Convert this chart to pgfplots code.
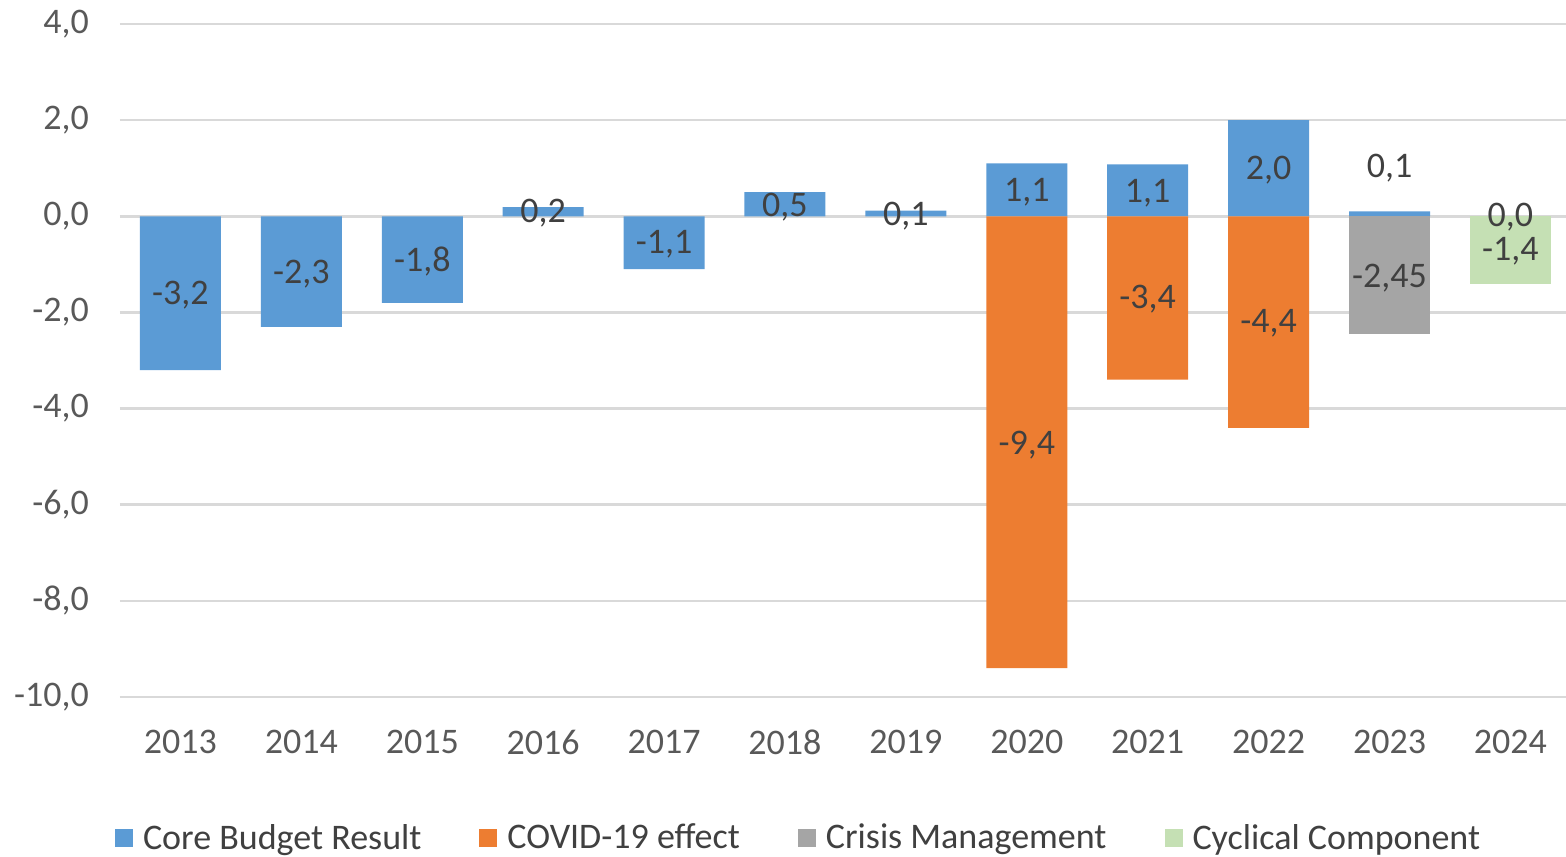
\documentclass[border=0pt]{standalone}
\usepackage{pgfplots}
\pgfplotsset{compat=1.18}
\usepackage{fontspec}
\setmainfont{Carlito}
\definecolor{cblue}{HTML}{5B9BD5}
\definecolor{corange}{HTML}{ED7D31}
\definecolor{cgray}{HTML}{A5A5A5}
\definecolor{cgreen}{HTML}{C5E0B4}
\definecolor{gridgray}{HTML}{D9D9D9}
\definecolor{ticktext}{HTML}{595959}
\definecolor{labeltext}{HTML}{404040}
\pgfplotsset{mybar/.style={ybar, bar width=40.5pt, bar shift=0pt, draw=none, fill=#1,
  legend image code/.code={\fill[#1] (0pt,-4.5pt) rectangle (9pt,4.5pt);}}}
\begin{document}
\begin{tikzpicture}
\useasboundingbox (-60pt,-79.5pt) rectangle (723pt,348.5pt);
\begin{axis}[
  at={(0,0)}, anchor=south west,
  scale only axis, width=723pt, height=336.5pt,
  xmin=-0.5, xmax=11.46, ymin=-10, ymax=4,
  axis line style={draw=none},
  major tick length=0pt,
  ytick={-10,-8,-6,-4,-2,0,2,4},
  yticklabels={{-10,0},{-8,0},{-6,0},{-4,0},{-2,0},{0,0},{2,0},{4,0}},
  xtick={0,1,2,3,4,5,6,7,8,9,10,11},
  xticklabels={2013,2014,2015,2016,2017,2018,2019,2020,2021,2022,2023,2024},
  ymajorgrids,
  grid style={color=gridgray, line width=1.3pt},
  tick label style={font=\fontsize{18}{21}\selectfont, text=ticktext},
  yticklabel style={anchor=east, xshift=-12pt},
  xticklabel style={anchor=center, yshift=-22.5pt},
  legend columns=4,
  legend style={draw=none, at={(0.47,-0.2095)}, anchor=center,
    font=\fontsize{18}{21}\selectfont, text=labeltext,
    /tikz/every odd column/.append style={column sep=3pt},
    /tikz/every even column/.append style={column sep=27pt}},
]
\addplot[mybar=cblue] coordinates {(0,-3.2) (1,-2.3) (2,-1.8) (3,0.19) (4,-1.1) (5,0.5) (6,0.12) (7,1.1) (8,1.08) (9,2.0) (10,0.1) (11,0.0)};
\addlegendentry{Core Budget Result}
\addplot[mybar=corange] coordinates {(7,-9.4) (8,-3.4) (9,-4.4)};
\addlegendentry{COVID-19 effect}
\addplot[mybar=cgray] coordinates {(10,-2.45)};
\addlegendentry{Crisis Management}
\addplot[mybar=cgreen] coordinates {(11,-1.4)};
\addlegendentry{Cyclical Component}
\addplot[draw=none, mark=none, forget plot, nodes near coords, point meta=explicit symbolic,
  nodes near coords style={anchor=center, font=\fontsize{18}{21}\selectfont, text=labeltext}]
  table[meta=lab] {
x y lab
0 -1.63 -3,2
1 -1.2 -2,3
2 -0.95 -1,8
3 0.06 0,2
4 -0.58 -1,1
5 0.2 0,5
6 0.0 0,1
7 0.5 1,1
7 -4.75 -9,4
8 0.47 1,1
8 -1.72 -3,4
9 0.95 2,0
9 -2.22 -4,4
10 1.0 0,1
10 -1.29 -2,45
11 -0.02 0,0
11 -0.72 -1,4
};
\end{axis}
\end{tikzpicture}
\end{document}
